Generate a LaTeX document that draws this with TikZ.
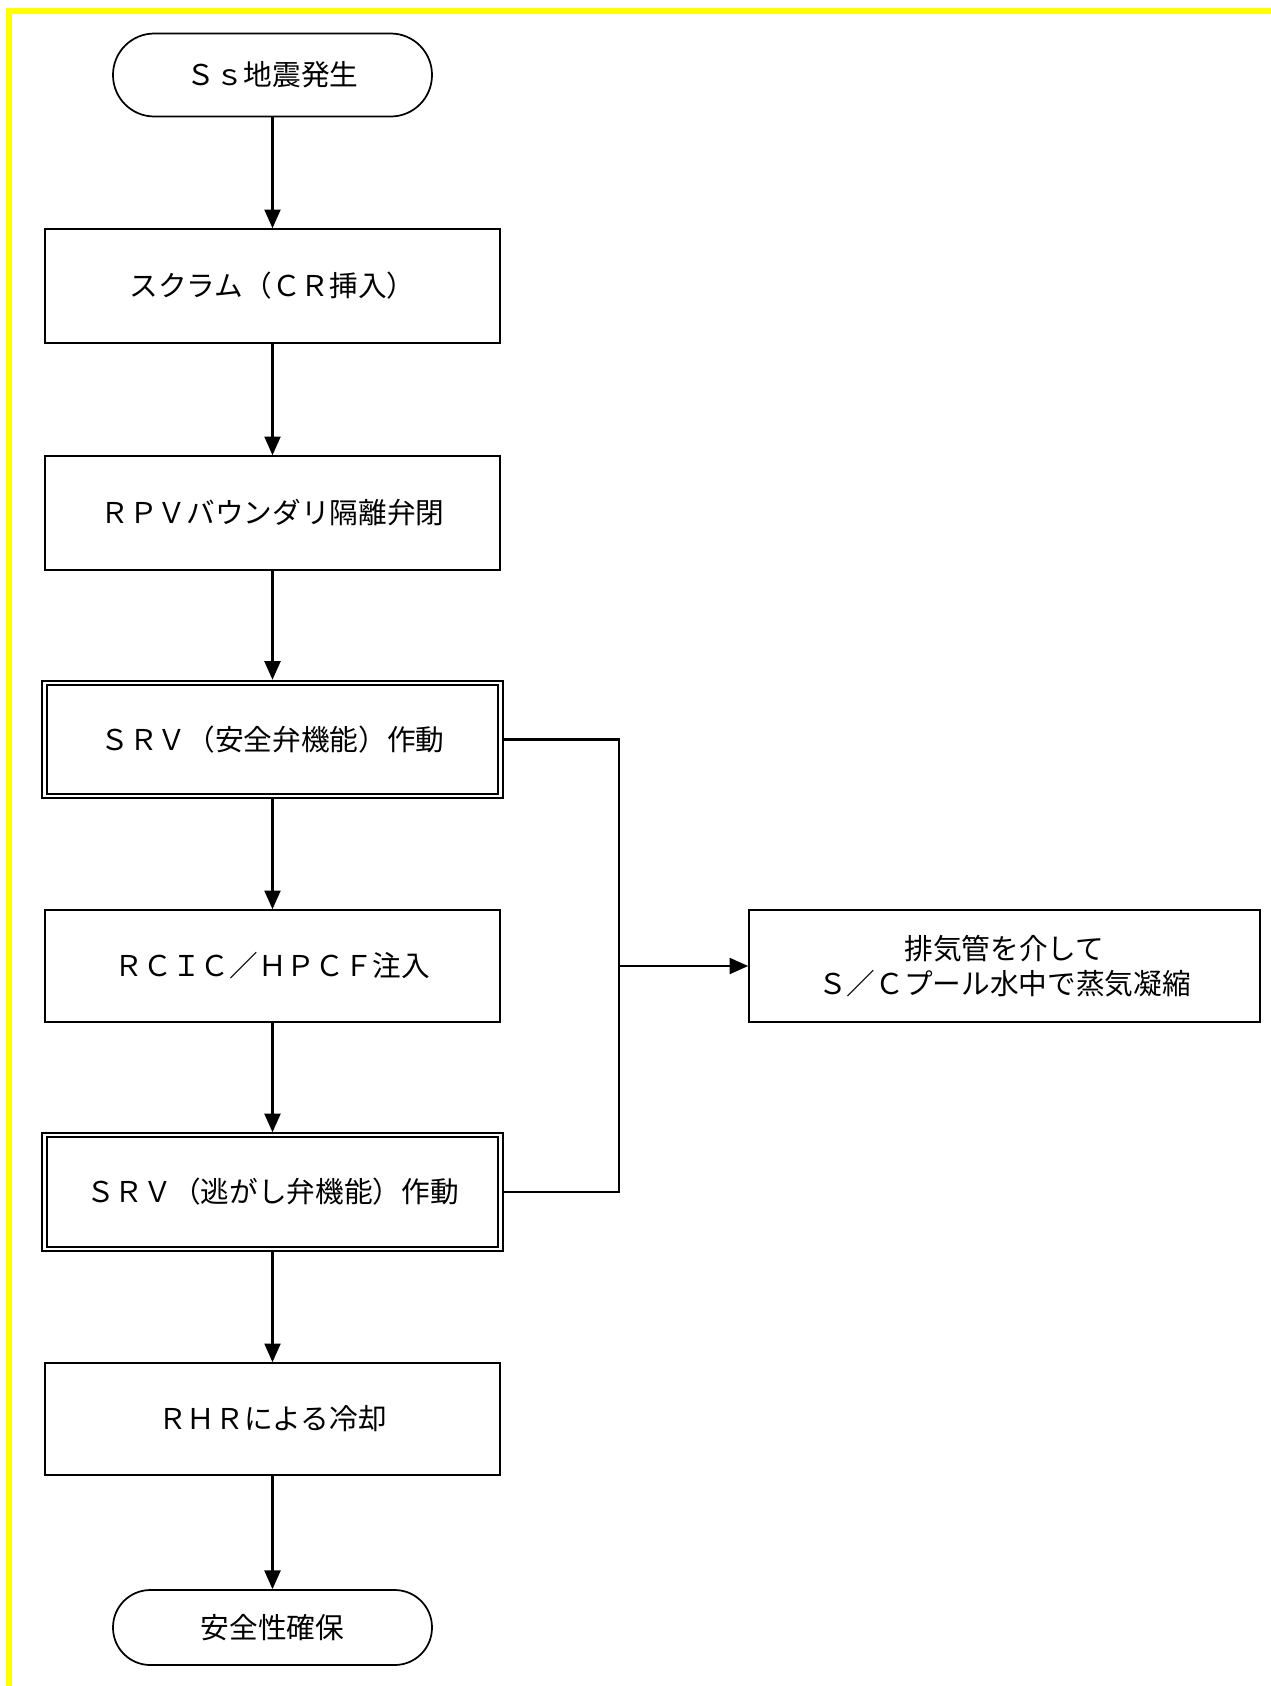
\documentclass[tikz,border=0pt]{standalone}
\usepackage{fontspec}
\setmainfont{Noto Sans CJK JP}
\usetikzlibrary{arrows.meta}
\definecolor{frameyellow}{RGB}{255,255,0}
\begin{document}
\begin{tikzpicture}[x=0.75pt,y=-0.75pt,
  every node/.style={font=\fontsize{21.5pt}{26.5pt}\selectfont, inner sep=0pt, align=center},
  procbox/.style={draw, line width=1.2pt, minimum width=341.25pt},
  dblbox/.style={draw, line width=1.5pt, double=white, double distance=1.6pt,
                 minimum width=342pt, minimum height=85pt, outer sep=2.3pt},
  termbox/.style={draw, line width=1.3pt, minimum width=239.25pt},
  arr/.style={-{Triangle[length=14pt,width=12pt]}, line width=1.7pt},
  link/.style={line width=1.6pt}
]
\useasboundingbox (0,0) rectangle (1271,1686);
% yellow frame
\draw[frameyellow, line width=4.5pt] (9,1686) -- (9,11) -- (1271,11);

% nodes
\node[termbox, minimum height=62.25pt, rounded corners=31pt] (start) at (272.5,75) {Ｓｓ地震発生};
\node[procbox, minimum height=85.5pt] (scram) at (272.5,286) {スクラム（ＣＲ挿入）};
\node[procbox, minimum height=85.5pt] (rpv) at (272.5,513) {ＲＰＶバウンダリ隔離弁閉};
\node[dblbox] (srva) at (272.5,739.5) {ＳＲＶ（安全弁機能）作動};
\node[procbox, minimum height=84pt] (rcic) at (272.5,966) {ＲＣＩＣ／ＨＰＣＦ注入};
\node[dblbox] (srvb) at (272.5,1192) {ＳＲＶ（逃がし弁機能）作動};
\node[procbox, minimum height=84pt] (rhr) at (272.5,1419) {ＲＨＲによる冷却};
\node[termbox, minimum height=56.25pt, rounded corners=28pt] (goal) at (272.5,1627.5) {安全性確保};
\node[draw, line width=1.2pt, minimum width=383.25pt, minimum height=84pt] (pool) at (1004.5,966)
  {排気管を介して\\Ｓ／Ｃプール水中で蒸気凝縮};

% junction coordinates
\coordinate (ja) at (619,739.5);
\coordinate (jm) at (619,966);
\coordinate (jb) at (619,1192);

% main flow
\draw[arr] (start.south) -- (scram.north);
\draw[arr] (scram.south) -- (rpv.north);
\draw[arr] (rpv.south) -- (srva.north);
\draw[arr] (srva.south) -- (rcic.north);
\draw[arr] (rcic.south) -- (srvb.north);
\draw[arr] (srvb.south) -- (rhr.north);
\draw[arr] (rhr.south) -- (goal.north);

% side branch
\draw[link] (srva.east) -- (ja) -- (jb) -- (srvb.east);
\draw[arr] (jm) -- (pool.west);
\end{tikzpicture}
\end{document}
